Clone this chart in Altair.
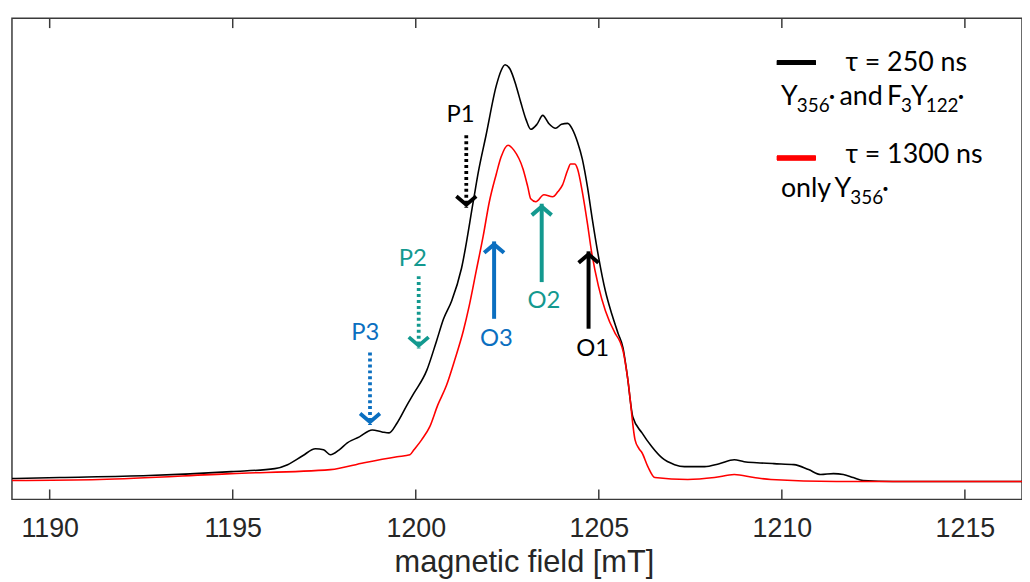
import altair as alt
import pandas as pd

# ---------------- data ----------------
tick_values = [1190, 1195, 1200, 1205, 1210, 1215]

black_field = [1188.97, 1190.27, 1192.71, 1194.96, 1196.15, 1196.50, 1196.91, 1197.26, 1197.48, 1197.67,
               1197.91, 1198.13, 1198.46, 1198.81, 1199.08, 1199.27, 1199.49, 1199.76, 1199.95, 1200.30,
               1200.57, 1200.76, 1200.98, 1201.25, 1201.57, 1201.71, 1201.92, 1202.20, 1202.33, 1202.44,
               1202.57, 1202.74, 1202.87, 1203.01, 1203.14, 1203.31, 1203.47, 1203.63, 1203.82, 1203.98,
               1204.15, 1204.28, 1204.42, 1204.55, 1204.69, 1204.82, 1204.99, 1205.18, 1205.37, 1205.53,
               1205.66, 1205.77, 1205.93, 1206.18, 1206.45, 1206.72, 1207.07, 1207.34, 1207.89, 1208.29,
               1208.70, 1208.97, 1209.32, 1209.78, 1210.33, 1210.73, 1211.06, 1211.41, 1211.68, 1211.95,
               1212.22, 1213.04, 1214.39, 1216.56]
black_signal = [2, 3, 5, 9, 12, 16, 25, 32, 31, 26,
                31, 38, 44, 51, 49, 48, 58, 76, 88, 111,
                141, 163, 181, 214, 281, 311, 348, 398, 413, 419,
                415, 398, 381, 364, 354, 359, 368, 360, 355, 359,
                360, 354, 341, 324, 296, 264, 226, 191, 166, 148,
                134, 108, 64, 48, 34, 23, 16, 14, 14, 17,
                21, 19, 18, 17, 16, 11, 6, 7, 6, 3,
                0, -1, -1, -1]

red_field = [1188.97, 1191.36, 1194.96, 1197.67, 1198.59, 1199.49, 1199.84, 1199.95, 1200.16, 1200.38,
             1200.60, 1200.84, 1201.06, 1201.30, 1201.46, 1201.65, 1201.84, 1202.01, 1202.20, 1202.33,
             1202.52, 1202.68, 1202.93, 1203.06, 1203.14, 1203.28, 1203.50, 1203.74, 1203.88, 1204.01,
             1204.15, 1204.23, 1204.34, 1204.42, 1204.55, 1204.69, 1204.80, 1204.99, 1205.18, 1205.45,
             1205.58, 1205.66, 1205.80, 1205.99, 1206.10, 1206.18, 1206.34, 1206.53, 1207.43, 1208.16,
             1208.70, 1209.24, 1209.70, 1211.49, 1216.56]
red_signal = [0, 1, 7, 11, 18, 24, 26, 31, 41, 54,
              76, 96, 121, 151, 176, 211, 246, 281, 309, 326,
              338, 333, 314, 296, 284, 281, 288, 286, 291, 298,
              313, 319, 319, 314, 291, 259, 231, 196, 171, 148,
              140, 131, 100, 41, 32, 28, 14, 3, 1, 3,
              6, 3, 1, -1, -1]

# arrows: label, field position, shaft start, tip, colour, dotted?
arrow_labels = ["P1", "P2", "P3", "O3", "O2", "O1"]
arrow_field = [1201.38, 1200.08, 1198.75, 1202.14, 1203.44, 1204.72]
arrow_start = [348, 206, 129, 163, 200, 153]
arrow_tip = [278, 136, 59, 238, 276, 228]
arrow_color = ["#000000", "#13998f", "#0b6fc0", "#0b6fc0", "#13998f", "#000000"]
arrow_dotted = [True, True, True, False, False, False]
label_field = [1201.22, 1199.92, 1198.62, 1202.20, 1203.50, 1204.83]
label_signal = [368, 223, 149, 143, 181, 133]

AXIS_GRAY = "#3a3a3a"
ANN_FONT = "Lato, 'Open Sans', 'DejaVu Sans'"

# ---------------- chart ----------------
W, H = 1018, 485
X_DOMAIN = [1188.97, 1216.56]
x_enc = alt.X(
    "field:Q",
    scale=alt.Scale(domain=X_DOMAIN, nice=False, zero=False),
    axis=alt.Axis(values=tick_values, format="d", ticks=False, tickSize=0, domain=False, grid=False,
                  labelFont="Liberation Sans", labelFontSize=27, labelColor="#262626",
                  labelPadding=16, labelFlush=False,
                  title="magnetic field [mT]", titleFont="Liberation Sans", titleFontSize=31,
                  titleFontWeight="normal", titleColor="#262626", titlePadding=7,
                  titleX=516, titleAlign="center", titleAnchor="start"),
)
y_scale = alt.Scale(domain=[-19, 466], nice=False, zero=False)


def y_enc(field):
    return alt.Y(field, scale=y_scale, axis=None)


black_df = pd.DataFrame({"field": black_field, "signal": black_signal})
red_df = pd.DataFrame({"field": red_field, "signal": red_signal})

black_line = alt.Chart(black_df).mark_line(color="#000000", strokeWidth=1.6, clip=True,
                                           interpolate="monotone").encode(x=x_enc, y=y_enc("signal:Q"))
red_line = alt.Chart(red_df).mark_line(color="#ff0000", strokeWidth=1.6, clip=True,
                                       interpolate="monotone").encode(x=x_enc, y=y_enc("signal:Q"))

tick_df = pd.DataFrame({"field": tick_values})
top_ticks = alt.Chart(tick_df).mark_rule(color=AXIS_GRAY, strokeWidth=1.5).encode(
    x=x_enc, y=alt.value(0), y2=alt.value(10))
bottom_ticks = alt.Chart(tick_df).mark_rule(color=AXIS_GRAY, strokeWidth=1.5).encode(
    x=x_enc, y=alt.value(H), y2=alt.value(H - 10))

arr = pd.DataFrame({
    "label": arrow_labels, "field": arrow_field, "start": arrow_start, "tip": arrow_tip,
    "color": arrow_color, "dotted": arrow_dotted,
    "lfield": label_field, "lsignal": label_signal,
})
arr["shaft_end"] = [t - 3 if d else t + 3 for t, d in zip(arr["tip"], arr["dotted"])]

dotted = alt.Chart(arr[arr["dotted"]]).mark_rule(strokeWidth=3.8, strokeDash=[3, 3], strokeCap="butt").encode(
    x=x_enc, y=y_enc("start:Q"), y2="shaft_end:Q", color=alt.Color("color:N", scale=None))
solid = alt.Chart(arr[~arr["dotted"]]).mark_rule(strokeWidth=4, strokeCap="butt").encode(
    x=x_enc, y=y_enc("start:Q"), y2="shaft_end:Q", color=alt.Color("color:N", scale=None))

head_down = alt.Chart(arr[arr["dotted"]]).mark_point(
    shape="M-1,-0.85L0,0L1,-0.85", filled=False, size=400, strokeWidth=3.8, opacity=1,
    strokeJoin="miter").encode(
    x=x_enc, y=y_enc("tip:Q"), color=alt.Color("color:N", scale=None))
head_up = alt.Chart(arr[~arr["dotted"]]).mark_point(
    shape="M-1,0.85L0,0L1,0.85", filled=False, size=400, strokeWidth=4, opacity=1,
    strokeJoin="miter").encode(
    x=x_enc, y=y_enc("tip:Q"), color=alt.Color("color:N", scale=None))

labels = alt.Chart(arr).mark_text(font=ANN_FONT, fontSize=24, baseline="middle", align="center").encode(
    x=alt.X("lfield:Q", scale=alt.Scale(domain=X_DOMAIN, nice=False, zero=False)),
    y=y_enc("lsignal:Q"), text="label:N", color=alt.Color("color:N", scale=None))

# legend (placed in plot pixels)
legend_bar_black = alt.Chart(tick_df).mark_rule(color="#000000", strokeWidth=4.5).encode(
    x=alt.value(771), x2=alt.value(810), y=alt.value(45))
legend_bar_red = alt.Chart(tick_df).mark_rule(color="#ff0000", strokeWidth=4.5).encode(
    x=alt.value(771), x2=alt.value(810), y=alt.value(141))

MAIN, SUB = 27, 19
legend_pieces = [
    # text, x, baseline y, font size
    ("τ = 250 ns", 840, 53, MAIN),
    ("Y", 775, 88, MAIN), ("356", 791, 95, SUB), ("·", 823, 88, MAIN), ("and", 834, 88, MAIN),
    ("F", 882, 88, MAIN), ("3", 896, 95, SUB), ("Y", 906, 88, MAIN), ("122", 921, 95, SUB),
    ("·", 953, 88, MAIN),
    ("τ = 1300 ns", 840, 146, MAIN),
    ("only", 775, 180, MAIN), ("Y", 829, 180, MAIN), ("356", 845, 187, SUB), ("·", 877, 180, MAIN),
]
legend_text_layers = []
for txt, px, py, fs in legend_pieces:
    legend_text_layers.append(
        alt.Chart(tick_df.head(1)).mark_text(
            text=txt, font=ANN_FONT, fontSize=fs, align="left", baseline="alphabetic", color="#000000"
        ).encode(x=alt.value(px), y=alt.value(py))
    )

chart = alt.layer(
    black_line, red_line, top_ticks, bottom_ticks, dotted, solid, head_down, head_up, labels,
    legend_bar_black, legend_bar_red, *legend_text_layers,
).properties(
    width=W, height=H,
    padding={"left": 4, "top": 7, "right": 0, "bottom": 0},
    background="white",
).configure_view(stroke=AXIS_GRAY, strokeWidth=1.5)

chart.save("out.html", embed_options={"renderer": "svg", "actions": False})
